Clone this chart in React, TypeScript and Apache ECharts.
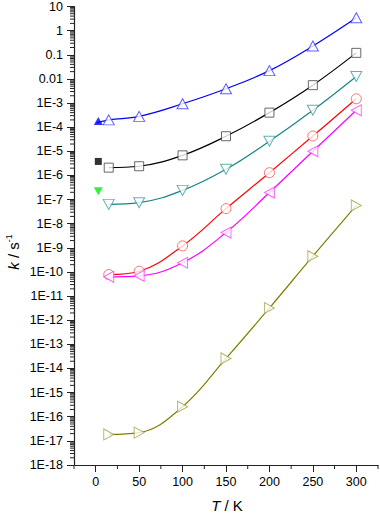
import React, { useEffect, useRef } from 'react';
import * as echarts from 'echarts';

// Temperatures (K) of the open symbols
const temps = [15, 50, 100, 150, 200, 250, 300];
// Rate constants k (s^-1)
const kBlue = [2.0e-4, 2.8e-4, 9.3e-4, 3.9e-3, 0.022, 0.23, 3.4];
const kBlack = [2.1e-6, 2.4e-6, 6.8e-6, 4.2e-5, 4.0e-4, 5.5e-3, 0.12];
const kTeal = [6.3e-8, 7.4e-8, 2.4e-7, 1.8e-6, 2.6e-5, 5.0e-4, 0.0126];
const kRed = [7.8e-11, 1.07e-10, 1.2e-9, 4.2e-8, 1.3e-6, 4.3e-5, 1.5e-3];
const kMagenta = [6.3e-11, 6.9e-11, 2.4e-10, 4.3e-9, 1.95e-7, 1.0e-5, 5.0e-4];
const kOlive = [1.85e-17, 2.2e-17, 2.6e-16, 2.6e-14, 3.2e-12, 4.5e-10, 5.7e-8];

// Filled symbols near T = 0
const filledT = 3;
const kFilledBlue = 1.8e-4;
const kFilledBlack = 3.8e-6;
const kFilledGreen = 2.2e-7;
// Start of the blue curve
const blueLineStartT = 1;
const blueLineStartK = 1.5e-4;

// Axes
const xMin = -25;
const xMax = 325;
const xTicks = [0, 50, 100, 150, 200, 250, 300];
const xMinorTicks = [-25, 25, 75, 125, 175, 225, 275, 325];
const yExpMin = -18;
const yExpMax = 1;
const yTickLabels = [
  '1E-18', '1E-17', '1E-16', '1E-15', '1E-14', '1E-13', '1E-12', '1E-11', '1E-10',
  '1E-9', '1E-8', '1E-7', '1E-6', '1E-5', '1E-4', '1E-3', '0.01', '0.1', '1', '10',
];

const FONT = 'Liberation Sans, Arial, sans-serif';

export default function App() {
  const ref = useRef<HTMLDivElement>(null);

  useEffect(() => {
    if (!ref.current) return;
    const chart = echarts.init(ref.current, undefined, { renderer: 'svg' });
    const lg = (v: number) => Math.log10(v);
    const pts = (ks: number[]) => temps.map((t, i) => [t, lg(ks[i])]);

    const yMinor: number[][] = [];
    for (let e = yExpMin; e < yExpMax; e++) {
      for (let m = 2; m <= 9; m++) yMinor.push([xMin, e + Math.log10(m)]);
    }

    const lineSeries = (data: number[][], color: string) => ({
      type: 'line',
      data,
      smooth: 0.4,
      showSymbol: false,
      symbol: 'none',
      lineStyle: { color, width: 1.2 },
      z: 2,
    });
    const markSeries = (
      data: number[][],
      color: string,
      symbol: string,
      size: number | number[],
      rotate = 0,
      filled = false
    ) => ({
      type: 'scatter',
      data,
      symbol,
      symbolSize: size,
      symbolRotate: rotate,
      itemStyle: filled
        ? { color, borderWidth: 0 }
        : { color: '#ffffff', borderColor: color, borderWidth: 1 },
      z: 3,
    });

    const option: any = {
      animation: false,
      grid: { left: 74, right: 2, top: 6, bottom: 48, containLabel: false },
      xAxis: {
        type: 'value',
        min: xMin,
        max: xMax,
        axisLine: { onZero: false, lineStyle: { color: '#222', width: 1.2 } },
        axisTick: { customValues: xTicks, length: 7, lineStyle: { color: '#222' } },
        axisLabel: {
          customValues: xTicks,
          margin: 10,
          fontSize: 12.5,
          fontFamily: FONT,
          color: '#000',
        },
        splitLine: { show: false },
      },
      yAxis: {
        type: 'value',
        min: yExpMin,
        max: yExpMax,
        interval: 1,
        axisLine: { show: true, onZero: false, lineStyle: { color: '#222', width: 1.2 } },
        axisTick: { show: true, length: 7, lineStyle: { color: '#222' } },
        axisLabel: {
          margin: 11,
          fontSize: 12.5,
          fontFamily: FONT,
          color: '#000',
          formatter: (v: number) => yTickLabels[Math.round(v) - yExpMin] ?? '',
        },
        splitLine: { show: false },
      },
      graphic: [
        {
          type: 'text',
          x: 13,
          y: 252,
          rotation: Math.PI / 2,
          style: {
            text: '{i|k} / s{sup|-1}',
            align: 'center',
            verticalAlign: 'middle',
            fill: '#000',
            font: `15px ${FONT}`,
            rich: {
              i: { fontStyle: 'italic', fontSize: 15, fontFamily: FONT, lineHeight: 18 },
              sup: { fontSize: 9, fontFamily: FONT, verticalAlign: 'top', lineHeight: 18 },
            },
          },
        },
        {
          type: 'text',
          x: 227,
          y: 505,
          style: {
            text: '{i|T} / K',
            align: 'center',
            verticalAlign: 'middle',
            fill: '#000',
            font: `15px ${FONT}`,
            rich: {
              i: { fontStyle: 'italic', fontSize: 15, fontFamily: FONT },
            },
          },
        },
      ],
      series: [
        // minor ticks on y axis
        {
          type: 'custom',
          coordinateSystem: 'cartesian2d',
          clip: false,
          silent: true,
          data: yMinor,
          renderItem: (params: any, api: any) => {
            const p = api.coord([api.value(0), api.value(1)]);
            return {
              type: 'line',
              shape: { x1: p[0] - 4, y1: p[1], x2: p[0], y2: p[1] },
              style: { stroke: '#222', lineWidth: 1 },
            };
          },
          z: 1,
        },
        // minor ticks on x axis
        {
          type: 'custom',
          coordinateSystem: 'cartesian2d',
          clip: false,
          silent: true,
          data: xMinorTicks.map((t) => [t, yExpMin]),
          renderItem: (params: any, api: any) => {
            const p = api.coord([api.value(0), api.value(1)]);
            return {
              type: 'line',
              shape: { x1: p[0], y1: p[1], x2: p[0], y2: p[1] + 4 },
              style: { stroke: '#222', lineWidth: 1 },
            };
          },
          z: 1,
        },
        lineSeries([[blueLineStartT, lg(blueLineStartK)], ...pts(kBlue)], '#0000ff'),
        lineSeries(pts(kBlack), '#000000'),
        lineSeries(pts(kTeal), '#168585'),
        lineSeries(pts(kRed), '#ff0000'),
        lineSeries(pts(kMagenta), '#ff00ff'),
        lineSeries(pts(kOlive), '#808000'),
        markSeries(pts(kBlue), '#3535ff', 'triangle', [11, 10]),
        markSeries(pts(kBlack), '#444444', 'rect', 9),
        markSeries(pts(kTeal), '#3f9c9c', 'triangle', [11, 10], 180),
        markSeries(pts(kRed), '#ff5050', 'circle', 10),
        markSeries(pts(kMagenta), '#ff40ff', 'triangle', [11, 10], 90),
        markSeries(pts(kOlive), '#a5a548', 'triangle', [11, 10], -90),
        markSeries([[filledT, lg(kFilledBlue)]], '#0000ff', 'triangle', [9, 8], 0, true),
        markSeries([[filledT, lg(kFilledBlack)]], '#000000', 'rect', 7, 0, true),
        markSeries([[filledT, lg(kFilledGreen)]], '#00ee00', 'triangle', [9, 8], 180, true),
      ],
    };

    chart.setOption(option);
    return () => chart.dispose();
  }, []);

  return (
    <div
      ref={ref}
      style={{ position: 'fixed', left: 0, top: 0, width: 380, height: 513, background: '#fff' }}
    />
  );
}
